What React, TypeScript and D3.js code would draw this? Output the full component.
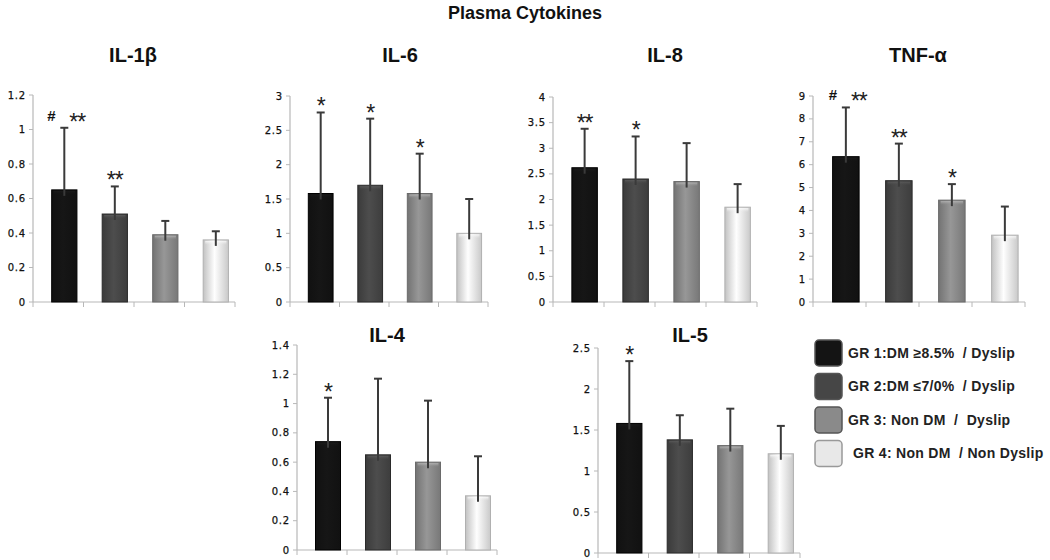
import React from 'react'
import * as d3 from 'd3'

// data
const panelNames = ['IL-1β', 'IL-6', 'IL-8', 'TNF-α', 'IL-4', 'IL-5']
const groupLabels = ['GR 1:DM ≥8.5%  / Dyslip', 'GR 2:DM ≤7/0%  / Dyslip', 'GR 3: Non DM  /  Dyslip', 'GR 4: Non DM  / Non Dyslip']

const il1bMeans = [0.65, 0.51, 0.39, 0.36]
const il1bSd = [0.36, 0.16, 0.08, 0.05]
const il6Means = [1.58, 1.7, 1.58, 1.0]
const il6Sd = [1.18, 0.97, 0.58, 0.5]
const il8Means = [2.62, 2.4, 2.35, 1.85]
const il8Sd = [0.76, 0.83, 0.75, 0.45]
const tnfMeans = [6.35, 5.3, 4.45, 2.92]
const tnfSd = [2.15, 1.62, 0.7, 1.25]
const il4Means = [0.74, 0.65, 0.6, 0.37]
const il4Sd = [0.3, 0.52, 0.42, 0.27]
const il5Means = [1.58, 1.38, 1.31, 1.21]
const il5Sd = [0.76, 0.3, 0.45, 0.34]

const yMaxes = [1.2, 3, 4, 9, 1.4, 2.5]
const yTickSteps = [0.2, 0.5, 0.5, 1, 0.2, 0.5]

const il1bMarks = ['#**', '**', '', '']
const il6Marks = ['*', '*', '*', '']
const il8Marks = ['**', '*', '', '']
const tnfMarks = ['#**', '**', '*', '']
const il4Marks = ['*', '', '', '']
const il5Marks = ['*', '', '', '']

const means = [il1bMeans, il6Means, il8Means, tnfMeans, il4Means, il5Means]
const sds = [il1bSd, il6Sd, il8Sd, tnfSd, il4Sd, il5Sd]
const marks = [il1bMarks, il6Marks, il8Marks, tnfMarks, il4Marks, il5Marks]

// panel geometry: axis left, axis right, axis top, axis bottom, title centre x, title y
const layout = [
  {x0: 33, x1: 235, top: 95, bottom: 302, tx: 133, ty: 62},
  {x0: 290, x1: 488, top: 96, bottom: 302, tx: 400, ty: 62},
  {x0: 553, x1: 757, top: 97, bottom: 302, tx: 665, ty: 62},
  {x0: 813, x1: 1025, top: 96, bottom: 302, tx: 918, ty: 62},
  {x0: 297, x1: 497, top: 345, bottom: 550, tx: 387, ty: 342},
  {x0: 598, x1: 800, top: 348, bottom: 553, tx: 690, ty: 342},
]

const fills = ['#141414', '#464646', '#8a8a8a', '#e8e8e8']
const strokes = ['#000', '#2a2a2a', '#6a6a6a', '#b0b0b0']
const sans = 'Liberation Sans, Arial, sans-serif'

const Panel = ({i}: {i: number}) => {
  const L = layout[i]
  const x = d3.scaleBand<number>().domain([0, 1, 2, 3]).range([L.x0, L.x1]).padding(0)
  const y = d3.scaleLinear().domain([0, yMaxes[i]]).range([L.bottom, L.top])
  const step = x.step()
  const bw = step * 0.5
  const ticks = d3.range(0, yMaxes[i] + 1e-9, yTickSteps[i]).map(v => +v.toFixed(2))
  const boundaries = d3.range(0, 5).map(k => L.x0 + k * step)

  return (
    <g>
      <text x={L.tx} y={L.ty} textAnchor="middle" fontFamily={sans}
        fontWeight="bold" fontSize={20} fill="#111">{panelNames[i]}</text>
      {/* y axis */}
      <line x1={L.x0} x2={L.x0} y1={L.top} y2={L.bottom} stroke="#b8b8b8" strokeWidth={1.2} />
      {ticks.map(t => (
        <g key={t}>
          <line x1={L.x0 - 4} x2={L.x0} y1={y(t)} y2={y(t)} stroke="#b8b8b8" />
          <text x={L.x0 - 7} y={y(t)} dy="0.35em" textAnchor="end" fontFamily="DejaVu Sans, sans-serif"
            fontSize={10} fill="#111" stroke="#111" strokeWidth={0.25} letterSpacing={0.8}>{String(t)}</text>
        </g>
      ))}
      {/* x axis */}
      <line x1={L.x0} x2={L.x1} y1={L.bottom} y2={L.bottom} stroke="#b8b8b8" strokeWidth={1.2} />
      {boundaries.map(b => (
        <line key={b} x1={b} x2={b} y1={L.bottom} y2={L.bottom + 5} stroke="#b8b8b8" />
      ))}
      {means[i].map((m, g) => {
        const cx = (x(g) as number) + step * 0.62
        const top = y(m)
        const errTop = y(m + sds[i][g])
        const mk = marks[i][g]
        const stars = mk.replace('#', '')
        return (
          <g key={g}>
            <rect x={cx - bw / 2} y={top} width={bw} height={L.bottom - top}
              fill={`url(#grad${g})`} stroke={strokes[g]} strokeWidth={1} />
            <rect x={cx - bw / 2 + 2} y={top + 1} width={bw - 4} height={4}
              fill={`url(#top${g})`} />
            <line x1={cx} x2={cx} y1={top + 6} y2={errTop} stroke="#3a3a3a" strokeWidth={2} />
            <line x1={cx - 4} x2={cx + 4} y1={errTop} y2={errTop} stroke="#3a3a3a" strokeWidth={2} />
            {mk.includes('#') && (
              <text x={cx - 13} y={errTop - 7} textAnchor="middle" fontFamily={sans}
                fontWeight="bold" fontSize={15} fill="#111">#</text>
            )}
            {stars && (
              <text x={mk.includes('#') ? cx + 13 : cx} y={errTop + 2} textAnchor="middle"
                fontFamily={sans} fontSize={23} fill="#222"
                letterSpacing={-1}>{stars}</text>
            )}
          </g>
        )
      })}
    </g>
  )
}

export default function App() {
  const legendY = d3.scaleBand<number>().domain([0, 1, 2, 3]).range([338, 472]).padding(0)

  return (
    <div style={{position: 'absolute', left: 0, top: 0}}>
      <svg width={1050} height={560} style={{display: 'block', background: '#fff'}}>
        <defs>
          {fills.map((f, g) => {
            const c = d3.color(f)!
            return (
              <React.Fragment key={g}>
                <linearGradient id={`grad${g}`} x1="0" x2="1" y1="0" y2="0">
                  <stop offset="0%" stopColor={c.darker(0.5).toString()} />
                  <stop offset="45%" stopColor={c.brighter(0.25).toString()} />
                  <stop offset="100%" stopColor={c.darker(0.4).toString()} />
                </linearGradient>
                <linearGradient id={`top${g}`} x1="0" x2="0" y1="0" y2="1">
                  <stop offset="0%" stopColor={c.brighter(0.9).toString()} stopOpacity={0.8} />
                  <stop offset="100%" stopColor={f} stopOpacity={0} />
                </linearGradient>
              </React.Fragment>
            )
          })}
        </defs>
        <text x={525} y={19} textAnchor="middle" fontFamily={sans}
          fontWeight="bold" fontSize={18} fill="#111">Plasma Cytokines</text>
        {panelNames.map((_, i) => <Panel key={i} i={i} />)}
        {groupLabels.map((lab, g) => {
          const yy = legendY(g) as number
          return (
            <g key={g}>
              <rect x={815} y={yy + 2} width={27} height={26} rx={4} fill={fills[g]}
                stroke={g === 3 ? '#999' : '#555'} strokeWidth={1.5} />
              <text x={g === 3 ? 853 : 848} y={yy + 15} dy="0.35em" fontFamily={sans}
                fontWeight="bold" fontSize={14} letterSpacing={0.3} fill="#222"
                style={{whiteSpace: 'pre'}}>{lab}</text>
            </g>
          )
        })}
      </svg>
    </div>
  )
}
